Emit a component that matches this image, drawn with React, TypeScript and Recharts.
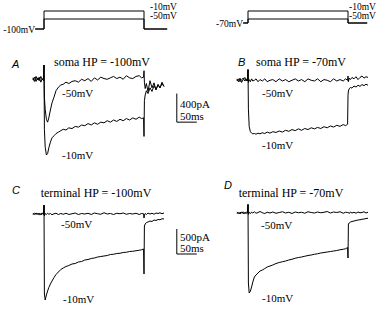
import { Line, LineChart, ReferenceLine, XAxis, YAxis } from "recharts";

// sample times in ms, step onset at 0, step end at 250
const T = [
  -28, -24, -20, -16, -12, -8, -4, -1,
  0, 1, 3, 6, 9, 12, 16, 20, 25, 30,
  36, 42, 48, 55, 62, 70, 78, 86, 94, 102,
  110, 118, 126, 134, 142, 150, 158, 166, 174, 182,
  190, 198, 206, 214, 222, 230, 238, 244, 249, 250,
  251, 253, 256, 260, 265, 270, 275, 280, 285, 290,
  295, 300,
];

// soma HP -100mV (pA)
const A_50 = [
  20, -30, 40, -10, 30, -40, 10, -20,
  200, -250, -420, -560, -600, -540, -430, -330, -250, -160,
  -110, -80, -70, -40, -60, -30, -20, -40, 0, -20,
  10, -30, 20, -10, 30, 10, 0, 20, 40, 10,
  30, 0, 50, 20, 10, 40, 50, 20, 30, 120,
  -40, -130, -60, -170, -20, -120, -50, -150, -70, -120,
  -40, -100,
];
const A_10 = [
  -10, 30, -30, 20, -20, 40, -10, 10,
  200, -700, -950, -1060, -1040, -960, -880, -820, -790, -760,
  -740, -720, -700, -710, -680, -690, -660, -670, -640, -650,
  -620, -640, -610, -630, -600, -610, -580, -600, -570, -590,
  -560, -580, -550, -570, -540, -560, -530, -550, -540, -800,
  -300, -220, -160, -200, -120, -170, -90, -140, -80, -120,
  -60, -100,
];

// soma HP -70mV (pA)
const B_50 = [
  20, -20, 30, -30, 10, 40, -10, 20,
  150, -30, 10, -20, 20, -10, 0, 20, -20, 10,
  -10, 20, -20, 0, 10, -20, 20, -10, 10, -20,
  0, 20, -10, 10, -20, 20, 0, -10, 20, -20,
  10, 0, -20, 20, -10, 10, -10, 20, 0, 60,
  -20, 30, 10, 40, 20, 50, 10, 40, 60, 30,
  50, 40,
];
const B_10 = [
  -10, 20, -20, 10, 30, -10, 20, -10,
  150, -400, -650, -720, -740, -750, -745, -755, -740, -750,
  -735, -745, -725, -740, -720, -730, -710, -725, -700, -715,
  -690, -705, -680, -700, -675, -690, -665, -680, -660, -675,
  -650, -665, -640, -655, -630, -645, -620, -635, -615, -210,
  -150, -120, -100, -110, -80, -95, -70, -85, -60, -75,
  -55, -70,
];

// terminal HP -100mV (pA)
const C_50 = [
  10, -10, 20, -5, 15, -15, 5, -10,
  180, -40, 10, -10, 15, -5, 10, -15, 5, 15,
  -10, 10, -5, 15, -10, 5, 20, -10, 10, 0,
  15, -10, 20, 5, -5, 25, 0, 10, -10, 15,
  5, 20, -5, 10, 0, 15, -10, 10, 5, -80,
  -20, 10, -10, 20, 0, 15, -5, 20, 10, 25,
  5, 20,
];
const C_10 = [
  -10, 15, -5, 10, -15, 5, 20, -5,
  180, -1600, -1720, -1620, -1540, -1470, -1400, -1340, -1270, -1210,
  -1160, -1110, -1080, -1050, -1030, -1000, -990, -960, -950, -920,
  -910, -890, -880, -860, -850, -840, -830, -810, -805, -790,
  -785, -770, -765, -750, -745, -735, -725, -715, -700, -1200,
  -240, -200, -170, -160, -140, -150, -120, -130, -110, -115,
  -95, -100,
];

// terminal HP -70mV (pA)
const D_50 = [
  15, -10, 5, 20, -15, 10, -5, 15,
  170, -30, 15, -10, 20, 0, 25, -5, 10, 30,
  5, -10, 15, 0, 20, -5, 10, 25, 0, 15,
  -10, 20, 5, 15, -5, 25, 10, 0, 20, 5,
  15, 30, 0, 20, 10, 25, -5, 15, 10, 0,
  10, -10, 20, 0, 15, -5, 20, 5, 10, 25,
  0, 15,
];
const D_10 = [
  -5, 10, -15, 5, 20, -10, 15, 0,
  170, -1400, -1600, -1560, -1480, -1380, -1280, -1240, -1200, -1160,
  -1140, -1110, -1080, -1060, -1040, -1010, -990, -975, -960, -940,
  -925, -905, -890, -880, -865, -850, -840, -825, -815, -800,
  -790, -780, -770, -760, -750, -735, -725, -715, -690, -900,
  -220, -200, -180, -170, -160, -150, -140, -135, -125, -120,
  -110, -105,
];

// voltage protocols (mV)
const PROTO_L_T = [-22, 0, 0, 250, 250, 308];
const PROTO_L_10 = [-100, -100, -10, -10, -100, -100];
const PROTO_L_50 = [-100, -100, -50, -50, -100, -100];
const PROTO_R_T = [-12, 0, 0, 250, 250, 298];
const PROTO_R_10 = [-70, -70, -10, -10, -70, -70];
const PROTO_R_50 = [-70, -70, -50, -50, -70, -70];

const traceRows = (m50: number[], m10: number[]) =>
  T.map((t, i) => ({ t, m50: m50[i], m10: m10[i] }));
const protoRows = (ts: number[], v10: number[], v50: number[]) =>
  ts.map((t, i) => ({ t, v10: v10[i], v50: v50[i] }));

type Bar = { x: number; y1: number; y2: number; len: number };

function Trace({
  left,
  top,
  width,
  height,
  xDomain,
  yDomain,
  data,
  keys,
  bar,
}: {
  left: number;
  top: number;
  width: number;
  height: number;
  xDomain: [number, number];
  yDomain: [number, number];
  data: Record<string, number>[];
  keys: string[];
  bar?: Bar;
}) {
  return (
    <div style={{ position: "absolute", left, top }}>
      <LineChart width={width} height={height} data={data} margin={{ top: 0, right: 0, left: 0, bottom: 0 }}>
        <XAxis type="number" dataKey="t" domain={xDomain} allowDataOverflow hide />
        <YAxis type="number" domain={yDomain} allowDataOverflow hide />
        {keys.map((k) => (
          <Line
            key={k}
            dataKey={k}
            type="linear"
            stroke="#000"
            strokeWidth={1}
            dot={false}
            isAnimationActive={false}
          />
        ))}
        {bar && (
          <ReferenceLine
            segment={[
              { x: bar.x, y: bar.y1 },
              { x: bar.x, y: bar.y2 },
            ]}
            stroke="#000"
            strokeWidth={1}
          />
        )}
        {bar && (
          <ReferenceLine
            segment={[
              { x: bar.x, y: bar.y2 },
              { x: bar.x + bar.len, y: bar.y2 },
            ]}
            stroke="#000"
            strokeWidth={1}
          />
        )}
      </LineChart>
    </div>
  );
}

const serif = "'Liberation Serif', 'Times New Roman', serif";
const sans = "'Liberation Sans', Arial, sans-serif";

export default function App() {
  return (
    <div style={{ position: "absolute", left: 0, top: 0, width: 379, height: 314, background: "#fff" }}>
      <Trace left={32} top={10} width={170} height={20} xDomain={[-30, 395]} yDomain={[-105, -5]}
        data={protoRows(PROTO_L_T, PROTO_L_10, PROTO_L_50)} keys={["v10", "v50"]} />
      <Trace left={236} top={10} width={144} height={20} xDomain={[-30, 330]} yDomain={[-105, -5]}
        data={protoRows(PROTO_R_T, PROTO_R_10, PROTO_R_50)} keys={["v10", "v50"]} />

      <Trace left={32} top={65} width={170} height={100} xDomain={[-30, 395]} yDomain={[-1200, 200]}
        data={traceRows(A_50, A_10)} keys={["m50", "m10"]} bar={{ x: 332, y1: -200, y2: -600, len: 50 }} />
      <Trace left={236} top={66} width={144} height={100} xDomain={[-30, 330]} yDomain={[-1200, 200]}
        data={traceRows(B_50, B_10)} keys={["m50", "m10"]} />
      <Trace left={32} top={204} width={170} height={100} xDomain={[-30, 395]} yDomain={[-1800, 200]}
        data={traceRows(C_50, C_10)} keys={["m50", "m10"]} bar={{ x: 332, y1: -300, y2: -800, len: 50 }} />
      <Trace left={236} top={203} width={144} height={100} xDomain={[-30, 330]} yDomain={[-1800, 200]}
        data={traceRows(D_50, D_10)} keys={["m50", "m10"]} />

      <svg width={379} height={314} style={{ position: "absolute", left: 0, top: 0, pointerEvents: "none" }}>
        <g fontFamily={serif} fontSize={9.5} fill="#000">
          <text x={35} y={33} textAnchor="end">-100mV</text>
          <text x={150} y={10}>-10mV</text>
          <text x={150} y={19}>-50mV</text>
          <text x={243} y={27} textAnchor="end">-70mV</text>
          <text x={349} y={10}>-10mV</text>
          <text x={349} y={19}>-50mV</text>
        </g>
        <g fontFamily={sans} fontStyle="italic" fontSize={11} fill="#000">
          <text x={12} y={68}>A</text>
          <text x={238} y={66}>B</text>
          <text x={12} y={194}>C</text>
          <text x={224} y={189}>D</text>
        </g>
        <g fontFamily={serif} fontSize={12} fill="#000" textAnchor="middle">
          <text x={102} y={66}>soma HP = -100mV</text>
          <text x={301} y={66}>soma HP = -70mV</text>
          <text x={96} y={197}>terminal HP = -100mV</text>
          <text x={291} y={197}>terminal HP = -70mV</text>
        </g>
        <g fontFamily={serif} fontSize={11} fill="#000">
          <text x={62} y={97}>-50mV</text>
          <text x={62} y={159}>-10mV</text>
          <text x={262} y={97}>-50mV</text>
          <text x={262} y={149}>-10mV</text>
          <text x={61} y={228}>-50mV</text>
          <text x={63} y={303}>-10mV</text>
          <text x={261} y={229}>-50mV</text>
          <text x={262} y={302}>-10mV</text>
          <text x={180} y={108}>400pA</text>
          <text x={180} y={120}>50ms</text>
          <text x={180} y={241}>500pA</text>
          <text x={180} y={252}>50ms</text>
        </g>
      </svg>
    </div>
  );
}
